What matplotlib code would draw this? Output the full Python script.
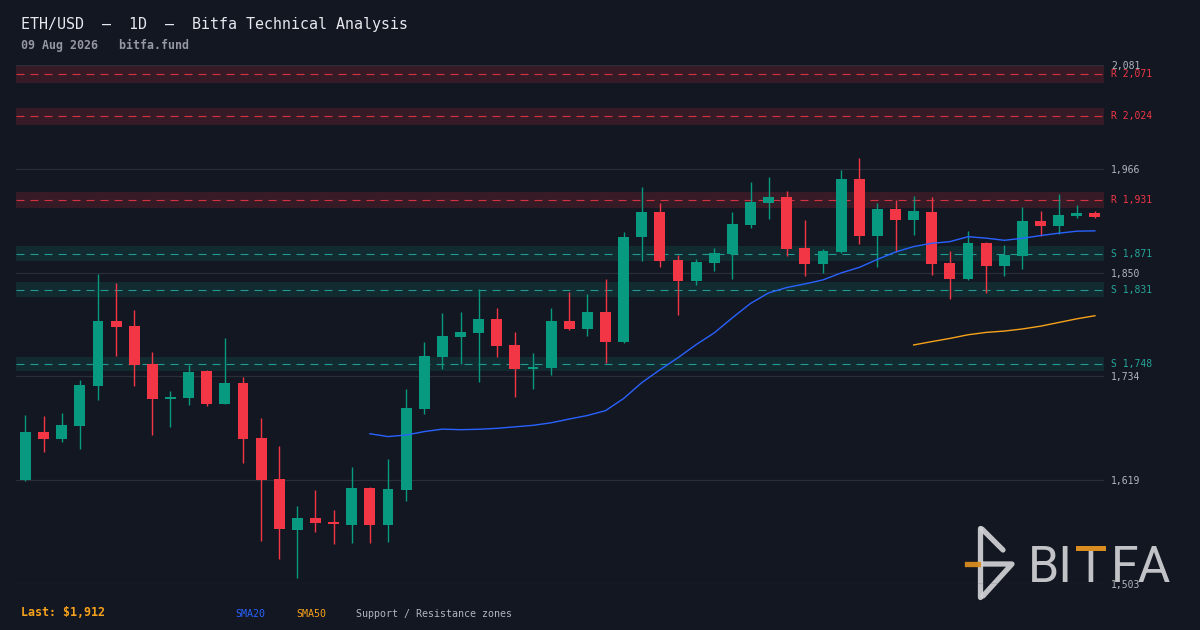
import numpy as np
import pandas as pd
import matplotlib
matplotlib.use("Agg")
import matplotlib.pyplot as plt
from matplotlib.patches import Rectangle
from matplotlib.transforms import Bbox, TransformedBbox, blended_transform_factory

# daily candles (USD)
opens = [1619.1, 1672.6, 1664.8, 1679.2, 1723.8, 1796.2, 1790.6, 1748.3, 1709.3, 1710.4,
         1740.5, 1703.7, 1727.1, 1665.9, 1620.2, 1563.4, 1576.8, 1572.3, 1569.0, 1610.2,
         1569.0, 1608.0, 1698.2, 1756.1, 1778.3, 1782.8, 1798.4, 1769.4, 1742.7, 1743.8,
         1796.2, 1787.2, 1806.2, 1772.8, 1889.7, 1917.5, 1864.1, 1840.7, 1860.7, 1870.8,
         1903.0, 1927.5, 1934.2, 1877.4, 1859.6, 1873.0, 1954.3, 1890.8, 1920.9, 1908.6,
         1917.5, 1860.7, 1842.9, 1883.0, 1857.4, 1868.5, 1907.5, 1901.9, 1913.1, 1916.4]
highs = [1691.5, 1690.4, 1693.7, 1730.5, 1848.5, 1838.5, 1808.4, 1761.6, 1718.2, 1747.2,
         1741.2, 1777.2, 1733.8, 1688.1, 1657.0, 1590.2, 1608.0, 1585.7, 1633.6, 1611.3,
         1642.5, 1720.4, 1772.8, 1805.1, 1806.2, 1831.8, 1810.6, 1783.9, 1760.5, 1810.6,
         1828.4, 1826.2, 1842.9, 1895.3, 1945.4, 1927.5, 1869.6, 1865.2, 1877.4, 1917.5,
         1950.9, 1956.5, 1940.9, 1908.6, 1876.3, 1964.3, 1977.6, 1927.5, 1930.9, 1935.3,
         1934.2, 1874.1, 1896.4, 1884.1, 1880.8, 1923.1, 1918.6, 1937.6, 1925.3, 1918.6]
lows = [1618.5, 1650.3, 1661.4, 1653.6, 1708.2, 1757.2, 1723.8, 1669.2, 1678.1, 1702.6,
        1701.5, 1703.2, 1638.0, 1551.2, 1531.2, 1510.0, 1561.2, 1547.9, 1549.0, 1549.0,
        1550.1, 1595.7, 1692.6, 1742.7, 1748.3, 1728.2, 1756.1, 1711.5, 1720.4, 1736.0,
        1786.1, 1779.5, 1749.4, 1771.7, 1863.0, 1856.3, 1802.8, 1836.2, 1851.8, 1842.9,
        1899.7, 1909.7, 1868.5, 1846.3, 1849.6, 1871.9, 1881.9, 1856.3, 1873.0, 1891.9,
        1847.4, 1820.7, 1841.8, 1827.3, 1846.3, 1854.1, 1890.8, 1893.0, 1910.8, 1910.8]
closes = [1672.6, 1664.8, 1680.4, 1724.9, 1796.2, 1789.5, 1747.2, 1709.3, 1711.5, 1739.4,
          1703.7, 1727.1, 1664.8, 1619.1, 1564.6, 1576.8, 1571.2, 1570.1, 1610.2, 1569.0,
          1609.1, 1699.3, 1757.2, 1779.5, 1783.9, 1798.4, 1768.3, 1742.7, 1744.9, 1796.2,
          1787.2, 1806.2, 1772.8, 1889.7, 1917.5, 1863.0, 1840.7, 1861.8, 1871.9, 1904.2,
          1928.7, 1934.2, 1876.3, 1859.6, 1874.1, 1954.3, 1890.8, 1920.9, 1908.6, 1918.6,
          1859.6, 1842.9, 1883.0, 1857.4, 1869.6, 1907.5, 1901.9, 1914.2, 1916.4, 1912.0]

resistance = [1931, 2024, 2071]
support = [1748, 1831, 1871]

BG = "#131722"
GRID = "#2a2e39"
UP = "#089981"
DOWN = "#f23645"
TEAL = "#26a69a"
TXT = "#b2b5be"
BLUE = "#2962ff"
ORANGE = "#f7a21b"
MONO = ["DejaVu Sans Mono"]

df = pd.DataFrame({"open": opens, "high": highs, "low": lows, "close": closes})
df["sma20"] = df["close"].rolling(20).mean()
df["sma50"] = df["close"].rolling(50).mean()
x = np.arange(len(df))

W, H = 1200, 630
fig = plt.figure(figsize=(12, 6.3), dpi=100, facecolor=BG)

# watermark logo sits under the chart axes (the chart axes is transparent)
lg = fig.add_axes([0, 0, 1, 1], facecolor="none", zorder=0)
lg.set_xlim(0, W)
lg.set_ylim(H, 0)
lg.axis("off")
LOGO = "#d2d3d6"
LOGO_OR = "#d98c1f"
lg.plot([980, 980], [528, 597], color=LOGO, lw=3.8, solid_capstyle="round", alpha=0.92)
lg.plot([982, 1003], [529, 550], color=LOGO, lw=3.8, solid_capstyle="round", alpha=0.92)
lg.plot([980, 1012, 983], [564, 564, 596], color=LOGO, lw=3.8, solid_capstyle="round",
        solid_joinstyle="round", alpha=0.92)
lg.plot([967, 978], [564, 564], color=LOGO_OR, lw=3.8, alpha=0.95)
kw = dict(fontsize=36, family=["Roboto", "DejaVu Sans"], va="baseline", color=LOGO, alpha=0.92)
lg.text(1028, 582, "BI", ha="left", **kw)
t_txt = lg.text(1090.7, 582, "T", ha="center", **kw)
t_txt.set_clip_box(TransformedBbox(Bbox([[1060, 553], [1120, 600]]), lg.transData))
lg.add_patch(Rectangle((1075.7, 545.5), 30, 5.3, color=LOGO_OR, lw=0, zorder=5))
lg.text(1111, 582, "FA", ha="left", **kw)

ax = fig.add_axes([16.4 / W, 1 - 584 / H, (1104 - 16.4) / W, (584 - 65) / H], zorder=1)
ax.set_facecolor("none")

ymin, ymax = 1503.3, 2081.2
ax.set_xlim(-0.5, len(df) - 0.5)
ax.set_ylim(ymin, ymax)

# grid
ticks = np.linspace(ymin, ymax, 6)
for t in ticks:
    ax.axhline(t, color=GRID, lw=0.9, zorder=0)
ax.set_yticks(ticks)
ax.set_yticklabels([f"{t:,.0f}" for t in ticks], family=MONO)
ax.yaxis.tick_right()
ax.tick_params(axis="y", length=0, pad=5, labelsize=7, labelcolor=TXT)
ax.set_xticks([])
for s in ax.spines.values():
    s.set_visible(False)

# zones
lbl_tr = blended_transform_factory(ax.transAxes, ax.transData)
for lev in resistance:
    ax.axhspan(lev * 0.9955, lev * 1.0045, color=DOWN, alpha=0.16, lw=0, zorder=1)
    ax.axhline(lev, color=DOWN, lw=0.8, alpha=0.85, ls=(0, (7.2, 5.4)), zorder=1.5)
    ax.text(1.0065, lev, f"R {lev:,}", transform=lbl_tr, color=DOWN, fontsize=7,
            family=MONO, va="center", ha="left", clip_on=False)
for lev in support:
    ax.axhspan(lev * 0.9955, lev * 1.0045, color=UP, alpha=0.16, lw=0, zorder=1)
    ax.axhline(lev, color=TEAL, lw=0.8, alpha=0.9, ls=(0, (7.2, 5.4)), zorder=1.5)
    ax.text(1.0065, lev, f"S {lev:,}", transform=lbl_tr, color=TEAL, fontsize=7,
            family=MONO, va="center", ha="left", clip_on=False)

# candles
cols = np.where(df["close"] >= df["open"], UP, DOWN)
body_lo = np.minimum(df["open"], df["close"])
body_h = np.maximum(np.abs(df["close"] - df["open"]), 1.2)
ax.vlines(x, df["low"], df["high"], colors=cols, lw=1.0, zorder=2)
ax.bar(x, body_h, bottom=body_lo, width=0.6, color=cols, lw=0, zorder=3)

# moving averages
ax.plot(x, df["sma20"], color=BLUE, lw=1.0, zorder=4)
ax.plot(x, df["sma50"], color=ORANGE, lw=1.0, zorder=4)

# header / footer text
def px(xp, yp):
    return xp / W, 1 - yp / H

fig.text(*px(21, 24), "ETH/USD  \u2013  1D  \u2013  Bitfa Technical Analysis", color="#e6e8ee",
         fontsize=10.8, family=MONO, va="center", ha="left")
fig.text(*px(21, 45), "09 Aug 2026   bitfa.fund", color="#9598a1", fontsize=8.4,
         family=MONO, fontweight="bold", va="center", ha="left")
fig.text(*px(21, 612), f"Last: ${df['close'].iloc[-1]:,.0f}", color=ORANGE, fontsize=8.4,
         family=MONO, fontweight="bold", va="center", ha="left")
fig.text(*px(235, 614), "SMA20", color=BLUE, fontsize=7.2, family=MONO, va="center", ha="left")
fig.text(*px(296, 614), "SMA50", color=ORANGE, fontsize=7.2, family=MONO, va="center", ha="left")
fig.text(*px(356, 614), "Support / Resistance zones", color=TXT, fontsize=7.2, family=MONO,
         va="center", ha="left")

fig.savefig("out.png", dpi=100, facecolor=BG)
